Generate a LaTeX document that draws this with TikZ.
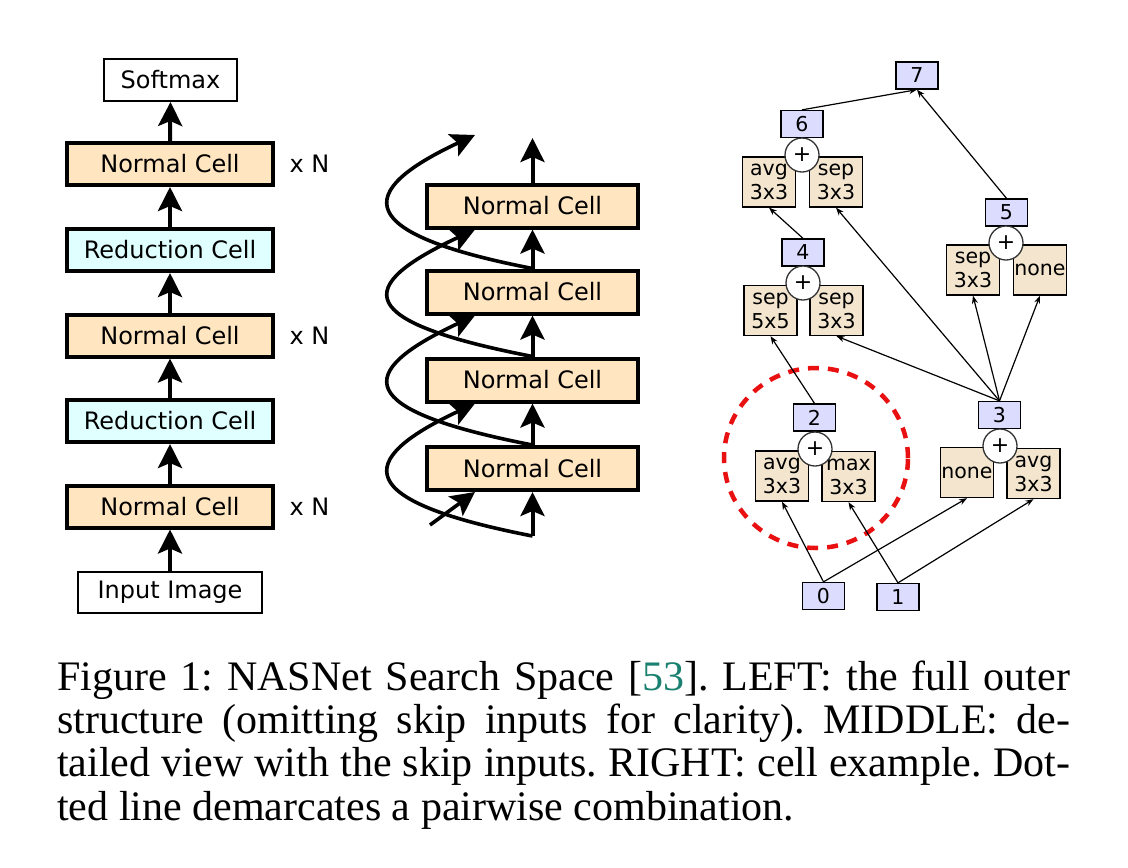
\documentclass[tikz,border=0pt]{standalone}
\usepackage{fontspec}
\setmainfont{Liberation Serif}
\newfontfamily\dejavu{DejaVu Sans}
\usetikzlibrary{arrows.meta,shapes.geometric}
\definecolor{ncfill}{HTML}{FFE5C0}
\definecolor{rcfill}{HTML}{E0FFFF}
\definecolor{opfill}{HTML}{F3E5CE}
\definecolor{numfill}{HTML}{DCDCFF}
\definecolor{citegreen}{HTML}{1A8070}
\definecolor{pairred}{HTML}{E81010}
\begin{document}
\frenchspacing
\begin{tikzpicture}[x=1pt,y=-1pt,
  bigfont/.style={font=\dejavu\fontsize{24}{28}\selectfont},
  smallfont/.style={font=\dejavu\fontsize{20.5}{24}\selectfont},
  cellbox/.style={draw, line width=4pt, minimum width=206pt, minimum height=42pt, inner sep=0pt, bigfont},
  ncell/.style={cellbox, fill=ncfill},
  rcell/.style={cellbox, fill=rcfill},
  mcell/.style={cellbox, fill=ncfill, minimum width=211pt, minimum height=43pt},
  endbox/.style={draw, line width=1.6pt, fill=white, inner sep=0pt, bigfont},
  bigarrow/.style={line width=4pt, -{Stealth[length=24pt,width=24pt,inset=5pt]}},
  skiparrow/.style={line width=3.6pt, -{Stealth[length=24pt,width=24pt,inset=5pt]}},
  opbox/.style={draw, line width=1.3pt, fill=opfill, minimum width=53pt, minimum height=50pt, inner sep=0pt, align=center, smallfont},
  numbox/.style={draw, line width=1.3pt, fill=numfill, minimum width=42pt, minimum height=27pt, inner sep=0pt, smallfont},
  plusnode/.style={circle, draw=black!80, line width=1.3pt, fill=white, minimum size=34pt, inner sep=0pt, font=\dejavu\fontsize{22}{24}\selectfont},
  thinedge/.style={line width=1.2pt, -{Stealth[length=8pt,width=6pt]}},
  capline/.style={anchor=base west, inner sep=0pt, font=\fontsize{42}{43}\selectfont}
]
\useasboundingbox (0,0) rectangle (1128,868);

% ---------------- LEFT ----------------
\node[endbox, minimum width=133.4pt, minimum height=42.4pt] (soft) at (170.5,80) {Softmax};
\node[ncell] (ln1) at (170,164) {Normal Cell};
\node[rcell] (lr1) at (170,250) {Reduction Cell};
\node[ncell] (ln2) at (170,335.5) {Normal Cell};
\node[rcell] (lr2) at (170,421) {Reduction Cell};
\node[ncell] (ln3) at (170,506.5) {Normal Cell};
\node[endbox, minimum width=184.4pt, minimum height=41.4pt] (inp) at (170,592.5) {Input Image};
\node[bigfont, inner sep=0pt] (xn1) at (309.5,164) {x N};
\node[bigfont, inner sep=0pt] (xn2) at (309.5,335.5) {x N};
\node[bigfont, inner sep=0pt] (xn3) at (309.5,506.5) {x N};
\draw[bigarrow] (ln1.north) -- (soft.south);
\draw[bigarrow] (lr1.north) -- (ln1.south);
\draw[bigarrow] (ln2.north) -- (lr1.south);
\draw[bigarrow] (lr2.north) -- (ln2.south);
\draw[bigarrow] (ln3.north) -- (lr2.south);
\draw[bigarrow] (inp.north) -- (ln3.south);

% ---------------- MIDDLE ----------------
\node[mcell] (m1) at (532.5,206) {Normal Cell};
\node[mcell] (m2) at (532.5,292) {Normal Cell};
\node[mcell] (m3) at (532.5,380) {Normal Cell};
\node[mcell] (m4) at (532.5,468.5) {Normal Cell};
\coordinate (mtop) at (532.5,138);
\coordinate (mbot) at (532.5,536);
\coordinate (skipin) at (430,525);
\coordinate (sktop) at (475,135);
\coordinate (sk1) at ([xshift=-57.5pt]m1.south);
\coordinate (sk2) at ([xshift=-57.5pt]m2.south);
\coordinate (sk3) at ([xshift=-57.5pt]m3.south);
\coordinate (sk4) at ([xshift=-57.5pt]m4.south);
\draw[bigarrow] (m1.north) -- (mtop);
\draw[bigarrow] (m2.north) -- (m1.south);
\draw[bigarrow] (m3.north) -- (m2.south);
\draw[bigarrow] (m4.north) -- (m3.south);
\draw[bigarrow] (mbot) -- (m4.south);
\draw[skiparrow] (skipin) -- (sk4);
\draw[skiparrow] (mbot) .. controls +(-180,-35) and +(-122,57) .. (sk3);
\draw[skiparrow] (m4.north) .. controls +(-180,-35) and +(-122,57) .. (sk2);
\draw[skiparrow] (m3.north) .. controls +(-180,-35) and +(-122,57) .. (sk1);
\draw[skiparrow] (m2.north) .. controls +(-180,-35) and +(-122,57) .. (sktop);

% ---------------- RIGHT ----------------
\node[numbox] (n7) at (917,75.5) {7};
\node[numbox] (n6) at (802,124) {6};
\node[opbox] (o6a) at (769,182) {avg\\3x3};
\node[opbox] (o6b) at (836,182) {sep\\3x3};
\node[plusnode] (p6) at (802,155) {+};
\node[numbox] (n4) at (803,252.5) {4};
\node[opbox] (o4a) at (770.5,310.5) {sep\\5x5};
\node[opbox] (o4b) at (836.5,310.5) {sep\\3x3};
\node[plusnode] (p4) at (803,283) {+};
\node[numbox] (n5) at (1006.5,212.5) {5};
\node[opbox] (o5a) at (973,270) {sep\\3x3};
\node[opbox] (o5b) at (1040,270) {none};
\node[plusnode] (p5) at (1006,243) {+};
\node[numbox] (n2) at (814.5,417.5) {2};
\node[opbox] (o2a) at (782,476) {avg\\3x3};
\node[opbox] (o2b) at (848.5,476.5) {max\\3x3};
\node[plusnode] (p2) at (815,449) {+};
\node[numbox] (n3) at (999.5,415) {3};
\node[opbox] (o3a) at (967,472.5) {none};
\node[opbox] (o3b) at (1033.5,473.5) {avg\\3x3};
\node[plusnode] (p3) at (1000,446) {+};
\node[numbox] (n0) at (823.5,596) {0};
\node[numbox] (n1) at (898,597) {1};
\node[ellipse, draw=pairred, line width=4.5pt, dash pattern=on 11pt off 9pt, minimum width=184pt, minimum height=180pt, inner sep=0pt] (pair) at (816,458) {};

\draw[thinedge] (n0.north) -- (o2a.south);
\draw[thinedge] (n1.north) -- (o2b.south);
\draw[thinedge] (n0.north) -- (o3a.south);
\draw[thinedge] (n1.north) -- (o3b.south);
\draw[thinedge] (n2.north) -- (o4a.south);
\draw[thinedge] (n3.north) -- (o4b.south);
\draw[thinedge] (n3.north) -- (o6b.south);
\draw[thinedge] (n3.north) -- (o5a.south);
\draw[thinedge] (n3.north) -- (o5b.south);
\draw[thinedge] (n4.north) -- (o6a.south);
\draw[thinedge] (n6.north) -- (n7.south);
\draw[thinedge] (n5.north) -- (n7.south);

% ---------------- CAPTION ----------------
\node[capline] (c1) at (57,690) {\makebox[1013pt][s]{Figure 1: NASNet Search Space [\textcolor{citegreen}{53}]. LEFT: the full outer}};
\node[capline] (c2) at (57,733) {\makebox[1013pt][s]{structure (omitting skip inputs for clarity). MIDDLE: de-}};
\node[capline] (c3) at (57,776.5) {\makebox[1013pt][s]{tailed view with the skip inputs. RIGHT: cell example. Dot-}};
\node[capline] (c4) at (57,820) {ted line demarcates a pairwise combination.};
\end{tikzpicture}
\end{document}
